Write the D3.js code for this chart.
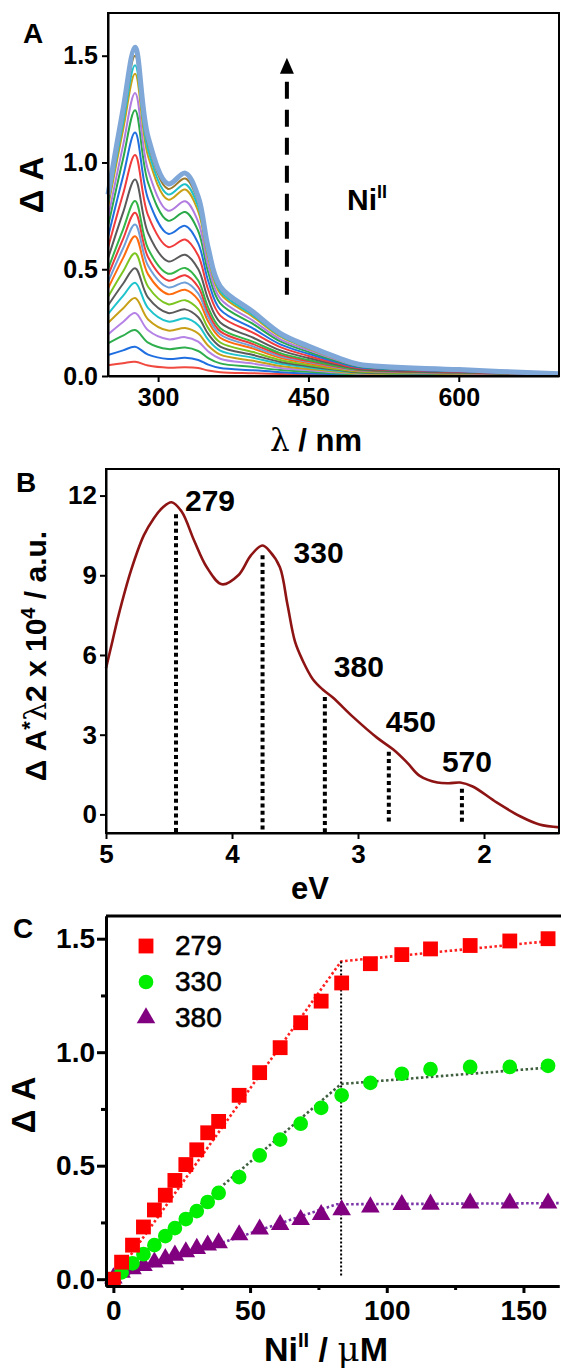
<!DOCTYPE html>
<html>
<head>
<meta charset="utf-8">
<script src="https://cdn.jsdelivr.net/npm/d3@7"></script>
<style>
  body { margin: 0; background: #fff; }
  svg text { font-family: "Liberation Sans", Arial, sans-serif; font-weight: bold; fill: #000; }
</style>
</head>
<body>
<svg id="fig" width="561" height="1369"></svg>
<script>
// ---------- data: panel A (titration spectra) ----------
const wavelengths = [250, 265, 277, 290, 310, 327, 340, 350, 362, 395, 422, 450, 480, 500, 600, 700];
const spectra = [
  [0.05, 0.06, 0.067, 0.049, 0.039, 0.041, 0.037, 0.026, 0.018, 0.013, 0.009, 0.006, 0.004, 0.003, 0.002, 0.001],
  [0.098, 0.12, 0.137, 0.10, 0.08, 0.085, 0.075, 0.053, 0.037, 0.027, 0.018, 0.012, 0.008, 0.005, 0.003, 0.001],
  [0.153, 0.189, 0.215, 0.156, 0.126, 0.133, 0.117, 0.084, 0.059, 0.042, 0.028, 0.02, 0.012, 0.008, 0.004, 0.001],
  [0.195, 0.253, 0.295, 0.214, 0.172, 0.182, 0.161, 0.115, 0.081, 0.058, 0.038, 0.027, 0.016, 0.011, 0.006, 0.002],
  [0.248, 0.316, 0.365, 0.265, 0.213, 0.225, 0.199, 0.142, 0.10, 0.071, 0.047, 0.033, 0.02, 0.013, 0.007, 0.002],
  [0.29, 0.375, 0.437, 0.318, 0.255, 0.27, 0.238, 0.17, 0.119, 0.085, 0.057, 0.04, 0.024, 0.016, 0.008, 0.003],
  [0.33, 0.432, 0.505, 0.367, 0.295, 0.312, 0.275, 0.197, 0.138, 0.098, 0.066, 0.046, 0.028, 0.018, 0.01, 0.003],
  [0.37, 0.489, 0.575, 0.418, 0.336, 0.355, 0.313, 0.224, 0.157, 0.112, 0.075, 0.052, 0.032, 0.021, 0.011, 0.004],
  [0.41, 0.552, 0.655, 0.476, 0.383, 0.404, 0.357, 0.255, 0.179, 0.128, 0.085, 0.06, 0.036, 0.024, 0.012, 0.004],
  [0.44, 0.597, 0.71, 0.516, 0.415, 0.438, 0.387, 0.277, 0.194, 0.138, 0.092, 0.065, 0.039, 0.026, 0.013, 0.005],
  [0.47, 0.641, 0.765, 0.556, 0.447, 0.472, 0.417, 0.298, 0.209, 0.149, 0.099, 0.07, 0.042, 0.028, 0.015, 0.005],
  [0.50, 0.686, 0.82, 0.596, 0.479, 0.506, 0.447, 0.32, 0.224, 0.16, 0.107, 0.075, 0.045, 0.03, 0.016, 0.005],
  [0.55, 0.765, 0.92, 0.669, 0.537, 0.568, 0.501, 0.359, 0.251, 0.179, 0.12, 0.084, 0.051, 0.033, 0.017, 0.006],
  [0.60, 0.852, 1.035, 0.752, 0.604, 0.639, 0.564, 0.404, 0.283, 0.202, 0.135, 0.094, 0.057, 0.037, 0.02, 0.007],
  [0.65, 0.934, 1.14, 0.829, 0.666, 0.703, 0.621, 0.445, 0.311, 0.222, 0.148, 0.104, 0.063, 0.041, 0.022, 0.007],
  [0.70, 1.016, 1.245, 0.905, 0.727, 0.768, 0.679, 0.486, 0.34, 0.243, 0.162, 0.113, 0.068, 0.045, 0.024, 0.008],
  [0.74, 1.079, 1.325, 0.963, 0.774, 0.818, 0.722, 0.517, 0.362, 0.258, 0.172, 0.121, 0.073, 0.048, 0.025, 0.009],
  [0.79, 1.152, 1.415, 1.029, 0.826, 0.873, 0.771, 0.552, 0.386, 0.276, 0.184, 0.129, 0.078, 0.051, 0.027, 0.009],
  [0.81, 1.184, 1.455, 1.058, 0.85, 0.898, 0.793, 0.567, 0.397, 0.284, 0.189, 0.132, 0.08, 0.052, 0.028, 0.009],
  [0.83, 1.219, 1.50, 1.09, 0.876, 0.925, 0.818, 0.585, 0.41, 0.293, 0.195, 0.137, 0.083, 0.054, 0.029, 0.01],
  [0.85, 1.25, 1.54, 1.12, 0.90, 0.95, 0.84, 0.60, 0.42, 0.30, 0.20, 0.14, 0.085, 0.055, 0.03, 0.01]
];
const spectraColors = ['#f04a40', '#1f6fe0', '#2fae4e', '#b582e6', '#c8a018', '#1fc3cc', '#5b5b5b',
  '#7cc521', '#ff6c10', '#6f9fd9', '#ee3a3a', '#34b548', '#5a5a5a', '#f03c3c', '#2070e0', '#2aa84a',
  '#b17ce0', '#c9a015', '#20c0c8', '#9a7a2a', '#7fa7d8'];
const ticksAx = [300, 450, 600];
const ticksAy = [0, 0.5, 1.0, 1.5];
const arrowNm = 428.5, arrowFrom = 0.38, arrowTo = 1.49;

// ---------- data: panel B (energy plot) ----------
const energy = [5.0, 4.95, 4.9, 4.8, 4.7, 4.62, 4.55, 4.48, 4.4, 4.3, 4.2, 4.08, 3.95, 3.85, 3.76, 3.7,
  3.62, 3.56, 3.5, 3.44, 3.36, 3.28, 3.2, 3.04, 2.85, 2.72, 2.61, 2.51, 2.37, 2.28, 2.19, 2.09, 1.9,
  1.71, 1.56, 1.4];
const signalB = [5.5, 6.5, 7.5, 9.2, 10.5, 11.15, 11.55, 11.75, 11.4, 10.3, 9.3, 8.66, 9.0, 9.75, 10.12, 9.9,
  9.3, 7.9, 6.5, 5.8, 5.1, 4.7, 4.4, 3.67, 2.89, 2.44, 1.95, 1.45, 1.2, 1.17, 1.2, 1.05, 0.45,
  -0.08, -0.38, -0.49];
const peaksNm = [279, 330, 380, 450, 570];
const peakTop = [11.3, 9.75, 4.42, 2.36, 0.97];
const peakBottom = [-0.7, -0.7, -0.7, -0.3, -0.3];
const ticksBx = [5, 4, 3, 2];
const ticksBy = [0, 3, 6, 9, 12];

// ---------- data: panel C (binding curves) ----------
const nickel = [0, 3, 7, 11, 15, 19, 22.5, 26.5, 30.5, 34.5, 38.5, 46, 53.5, 61, 68.5, 76, 83.5,
  94, 105.5, 116, 130.5, 145, 159];
const dA279 = [0.0, 0.075, 0.15, 0.23, 0.305, 0.37, 0.435, 0.505, 0.57, 0.645, 0.695, 0.81, 0.91, 1.02,
  1.13, 1.225, 1.305, 1.39, 1.43, 1.455, 1.47, 1.49, 1.50];
const dA330 = [0.0, 0.03, 0.07, 0.11, 0.15, 0.19, 0.225, 0.265, 0.30, 0.34, 0.38, 0.45, 0.545, 0.615,
  0.685, 0.755, 0.81, 0.865, 0.905, 0.925, 0.935, 0.935, 0.94];
const dA380 = [0.005, 0.03, 0.045, 0.06, 0.075, 0.09, 0.105, 0.12, 0.135, 0.15, 0.16, 0.195, 0.22, 0.24,
  0.262, 0.284, 0.305, 0.318, 0.328, 0.33, 0.335, 0.335, 0.335];
const fitX279 = [0, 83.3, 160], fitY279 = [0, 1.40, 1.49];
const fitX330 = [0, 83.3, 161], fitY330 = [0, 0.86, 0.934];
const fitX380 = [0, 81.7, 163], fitY380 = [0, 0.33, 0.335];
const breakX = 83.3, breakTop = 1.40, breakBottom = 0.012;
const ticksCx = [0, 50, 100, 150], minorCx = [25, 75, 125];
const ticksCy = [0, 0.5, 1.0, 1.5], minorCy = [0.25, 0.75, 1.25];

const svg = d3.select('#fig');

function styleAxis(g, size, width) {
  g.attr('font-family', null).attr('font-size', null);
  g.select('.domain').attr('stroke-width', width);
  g.selectAll('.tick line').attr('stroke-width', width);
  g.selectAll('.tick text').style('font-size', size + 'px');
}

// =============== A ===============
const xA = d3.scaleLinear().domain([250, 700]).range([108, 559]);
const yA = d3.scaleLinear().domain([0, 1.7]).range([376, 13]);

const lineA = d3.line().x((d, i) => xA(wavelengths[i])).y(d => yA(d)).curve(d3.curveCatmullRom.alpha(0.5));
svg.append('g').selectAll('path')
  .data(spectra)
  .enter().append('path')
  .attr('d', lineA)
  .attr('fill', 'none')
  .attr('stroke', (d, i) => spectraColors[i])
  .attr('stroke-width', (d, i) => i == spectra.length - 1 ? 5 : 2);

svg.append('rect').attr('x', 108).attr('y', 13).attr('width', 451).attr('height', 363)
  .attr('fill', 'none').attr('stroke', '#000').attr('stroke-width', 2);

svg.append('g').attr('transform', 'translate(0,376)')
  .call(d3.axisBottom(xA).tickValues(ticksAx).tickSize(6).tickPadding(6).tickSizeOuter(0))
  .call(g => styleAxis(g, 25, 2));
svg.append('g').attr('transform', 'translate(108,0)')
  .call(d3.axisLeft(yA).tickValues(ticksAy).tickFormat(d3.format('.1f')).tickSize(6).tickPadding(4).tickSizeOuter(0))
  .call(g => styleAxis(g, 25, 2));

// dashed arrow
svg.append('line')
  .attr('x1', xA(arrowNm)).attr('x2', xA(arrowNm))
  .attr('y1', yA(arrowFrom)).attr('y2', yA(arrowTo) + 18)
  .attr('stroke', '#000').attr('stroke-width', 4).attr('stroke-dasharray', '17,11');
svg.append('path')
  .attr('d', `M${xA(arrowNm)},${yA(arrowTo)} l-7,16 l14,0 Z`)
  .attr('fill', '#000');

svg.append('text').attr('x', 347).attr('y', 210).style('font-size', '30px')
  .text('Ni').append('tspan').attr('dy', -12).style('font-size', '18px').text('II');

svg.append('text').attr('x', 23).attr('y', 43).style('font-size', '28px').text('A');
svg.append('text').attr('transform', 'translate(43,185) rotate(-90)').attr('text-anchor', 'middle')
  .style('font-size', '33px').text('Δ A');
const labA = svg.append('text').attr('x', 316).attr('y', 451).attr('text-anchor', 'middle').style('font-size', '31px');
labA.append('tspan').style('font-weight', 'normal').style('font-family', '"DejaVu Serif", serif').text('λ');
labA.append('tspan').text(' / nm');

// =============== B ===============
const xB = d3.scaleLinear().domain([5, 1.405]).range([106, 559]);
const yB = d3.scaleLinear().domain([-0.7, 13]).range([833, 469]);

svg.append('g').selectAll('line')
  .data(peaksNm)
  .enter().append('line')
  .attr('x1', d => xB(1240 / d)).attr('x2', d => xB(1240 / d))
  .attr('y1', (d, i) => yB(peakTop[i])).attr('y2', (d, i) => yB(peakBottom[i]))
  .attr('stroke', '#000').attr('stroke-width', 4).attr('stroke-dasharray', '4,3.3');

svg.append('path')
  .datum(signalB)
  .attr('d', d3.line().x((d, i) => xB(energy[i])).y(d => yB(d)).curve(d3.curveCatmullRom.alpha(0.5)))
  .attr('fill', 'none').attr('stroke', '#8e1414').attr('stroke-width', 2.6);

svg.append('rect').attr('x', 106).attr('y', 469).attr('width', 453).attr('height', 364)
  .attr('fill', 'none').attr('stroke', '#000').attr('stroke-width', 2);

svg.append('g').attr('transform', 'translate(0,833)')
  .call(d3.axisBottom(xB).tickValues(ticksBx).tickFormat(d3.format('d')).tickSize(6).tickPadding(6).tickSizeOuter(0))
  .call(g => styleAxis(g, 26, 2));
svg.append('g').attr('transform', 'translate(106,0)')
  .call(d3.axisLeft(yB).tickValues(ticksBy).tickSize(6).tickPadding(3).tickSizeOuter(0))
  .call(g => styleAxis(g, 26, 2));

const peakLabelShift = [[9, -3], [31, 8], [9, -20], [-3, -20], [-20, -17]];
svg.append('g').selectAll('text')
  .data(peaksNm)
  .enter().append('text')
  .attr('x', (d, i) => xB(1240 / d) + peakLabelShift[i][0])
  .attr('y', (d, i) => yB(peakTop[i]) + peakLabelShift[i][1])
  .style('font-size', '30px')
  .text(d => d);

svg.append('text').attr('x', 16).attr('y', 492).style('font-size', '28px').text('B');
svg.append('text').attr('x', 310).attr('y', 899).attr('text-anchor', 'middle').style('font-size', '31px').text('eV');
const labB = svg.append('text').attr('transform', 'translate(46,656) rotate(-90)')
  .attr('text-anchor', 'middle').style('font-size', '30px');
labB.append('tspan').text('Δ A');
labB.append('tspan').attr('dy', -9).style('font-size', '22px').text('*');
labB.append('tspan').attr('dy', 9).style('font-weight', 'normal').style('font-family', '"DejaVu Serif", serif').text('λ');
labB.append('tspan').text('2 x 10');
labB.append('tspan').attr('dy', -11).style('font-size', '20px').text('4');
labB.append('tspan').attr('dy', 11).text(' / a.u.');

// =============== C ===============
const xC = d3.scaleLinear().domain([-2.7, 163]).range([106, 559]);
const yC = d3.scaleLinear().domain([-0.03, 1.6]).range([1286, 916]);

const fitLine = d3.line().x(d => xC(d[0])).y(d => yC(d[1]));
const fits = [
  { xs: fitX279, ys: fitY279, color: '#ff2020' },
  { xs: fitX330, ys: fitY330, color: '#3f5f3f' },
  { xs: fitX380, ys: fitY380, color: '#7a34a8' }
];
svg.append('g').selectAll('path')
  .data(fits)
  .enter().append('path')
  .attr('d', f => fitLine(f.xs.map((x, i) => [x, f.ys[i]])))
  .attr('fill', 'none').attr('stroke', f => f.color).attr('stroke-width', 2.6).attr('stroke-dasharray', '2.5,2.5');

svg.append('line')
  .attr('x1', xC(breakX)).attr('x2', xC(breakX))
  .attr('y1', yC(breakTop)).attr('y2', yC(breakBottom))
  .attr('stroke', '#000').attr('stroke-width', 2).attr('stroke-dasharray', '2,2');

const sq = d3.symbol().type(d3.symbolSquare).size(220);
const ci = d3.symbol().type(d3.symbolCircle).size(170);
const tr = d3.symbol().type(d3.symbolTriangle).size(150);

svg.append('g').selectAll('path')
  .data(dA380).enter().append('path')
  .attr('d', tr).attr('fill', '#800080')
  .attr('transform', (d, i) => `translate(${xC(nickel[i])},${yC(d)})`);
svg.append('g').selectAll('path')
  .data(dA330).enter().append('path')
  .attr('d', ci).attr('fill', '#00ee00')
  .attr('transform', (d, i) => `translate(${xC(nickel[i])},${yC(d)})`);
svg.append('g').selectAll('path')
  .data(dA279).enter().append('path')
  .attr('d', sq).attr('fill', '#ff0000')
  .attr('transform', (d, i) => `translate(${xC(nickel[i])},${yC(d)})`);

// axes C
svg.append('line').attr('x1', 106).attr('x2', 561).attr('y1', 916).attr('y2', 916)
  .attr('stroke', '#000').attr('stroke-width', 3);
svg.append('g').attr('transform', 'translate(0,1286)')
  .call(d3.axisBottom(xC).tickValues(minorCx).tickSize(4).tickFormat('').tickSizeOuter(0))
  .call(g => styleAxis(g, 28, 3));
svg.append('g').attr('transform', 'translate(0,1286)')
  .call(d3.axisBottom(xC).tickValues(ticksCx).tickSize(7).tickPadding(7).tickSizeOuter(0))
  .call(g => styleAxis(g, 28, 3));
svg.append('g').attr('transform', 'translate(106,0)')
  .call(d3.axisLeft(yC).tickValues(minorCy).tickSize(5).tickFormat('').tickSizeOuter(0))
  .call(g => styleAxis(g, 28, 3));
svg.append('g').attr('transform', 'translate(106,0)')
  .call(d3.axisLeft(yC).tickValues(ticksCy).tickFormat(d3.format('.1f')).tickSize(9).tickPadding(2).tickSizeOuter(0))
  .call(g => styleAxis(g, 28, 3));

// legend
const legendNames = ['279', '330', '380'];
const legendSymbols = [[sq, '#ff0000'], [ci, '#00ee00'], [tr, '#800080']];
const legend = svg.append('g').selectAll('g')
  .data(legendNames).enter().append('g')
  .attr('transform', (d, i) => `translate(146,${946 + i * 36})`);
legend.append('path').attr('d', (d, i) => legendSymbols[i][0]()).attr('fill', (d, i) => legendSymbols[i][1]);
legend.append('text').attr('x', 29).attr('y', 9).style('font-size', '28px').style('font-weight', 'normal')
  .style('stroke', '#000').style('stroke-width', 0.6).text(d => d);

svg.append('text').attr('x', 13).attr('y', 938).style('font-size', '28px').text('C');
svg.append('text').attr('transform', 'translate(35,1105) rotate(-90)').attr('text-anchor', 'middle')
  .style('font-size', '33px').text('Δ A');
const labC = svg.append('text').attr('x', 326).attr('y', 1361).attr('text-anchor', 'middle').style('font-size', '34px');
labC.append('tspan').text('Ni');
labC.append('tspan').attr('dy', -14).style('font-size', '20px').text('II');
labC.append('tspan').attr('dy', 14).text(' / ');
labC.append('tspan').style('font-weight', 'normal').style('font-family', '"DejaVu Serif", serif').text('μ');
labC.append('tspan').text('M');
</script>
</body>
</html>
